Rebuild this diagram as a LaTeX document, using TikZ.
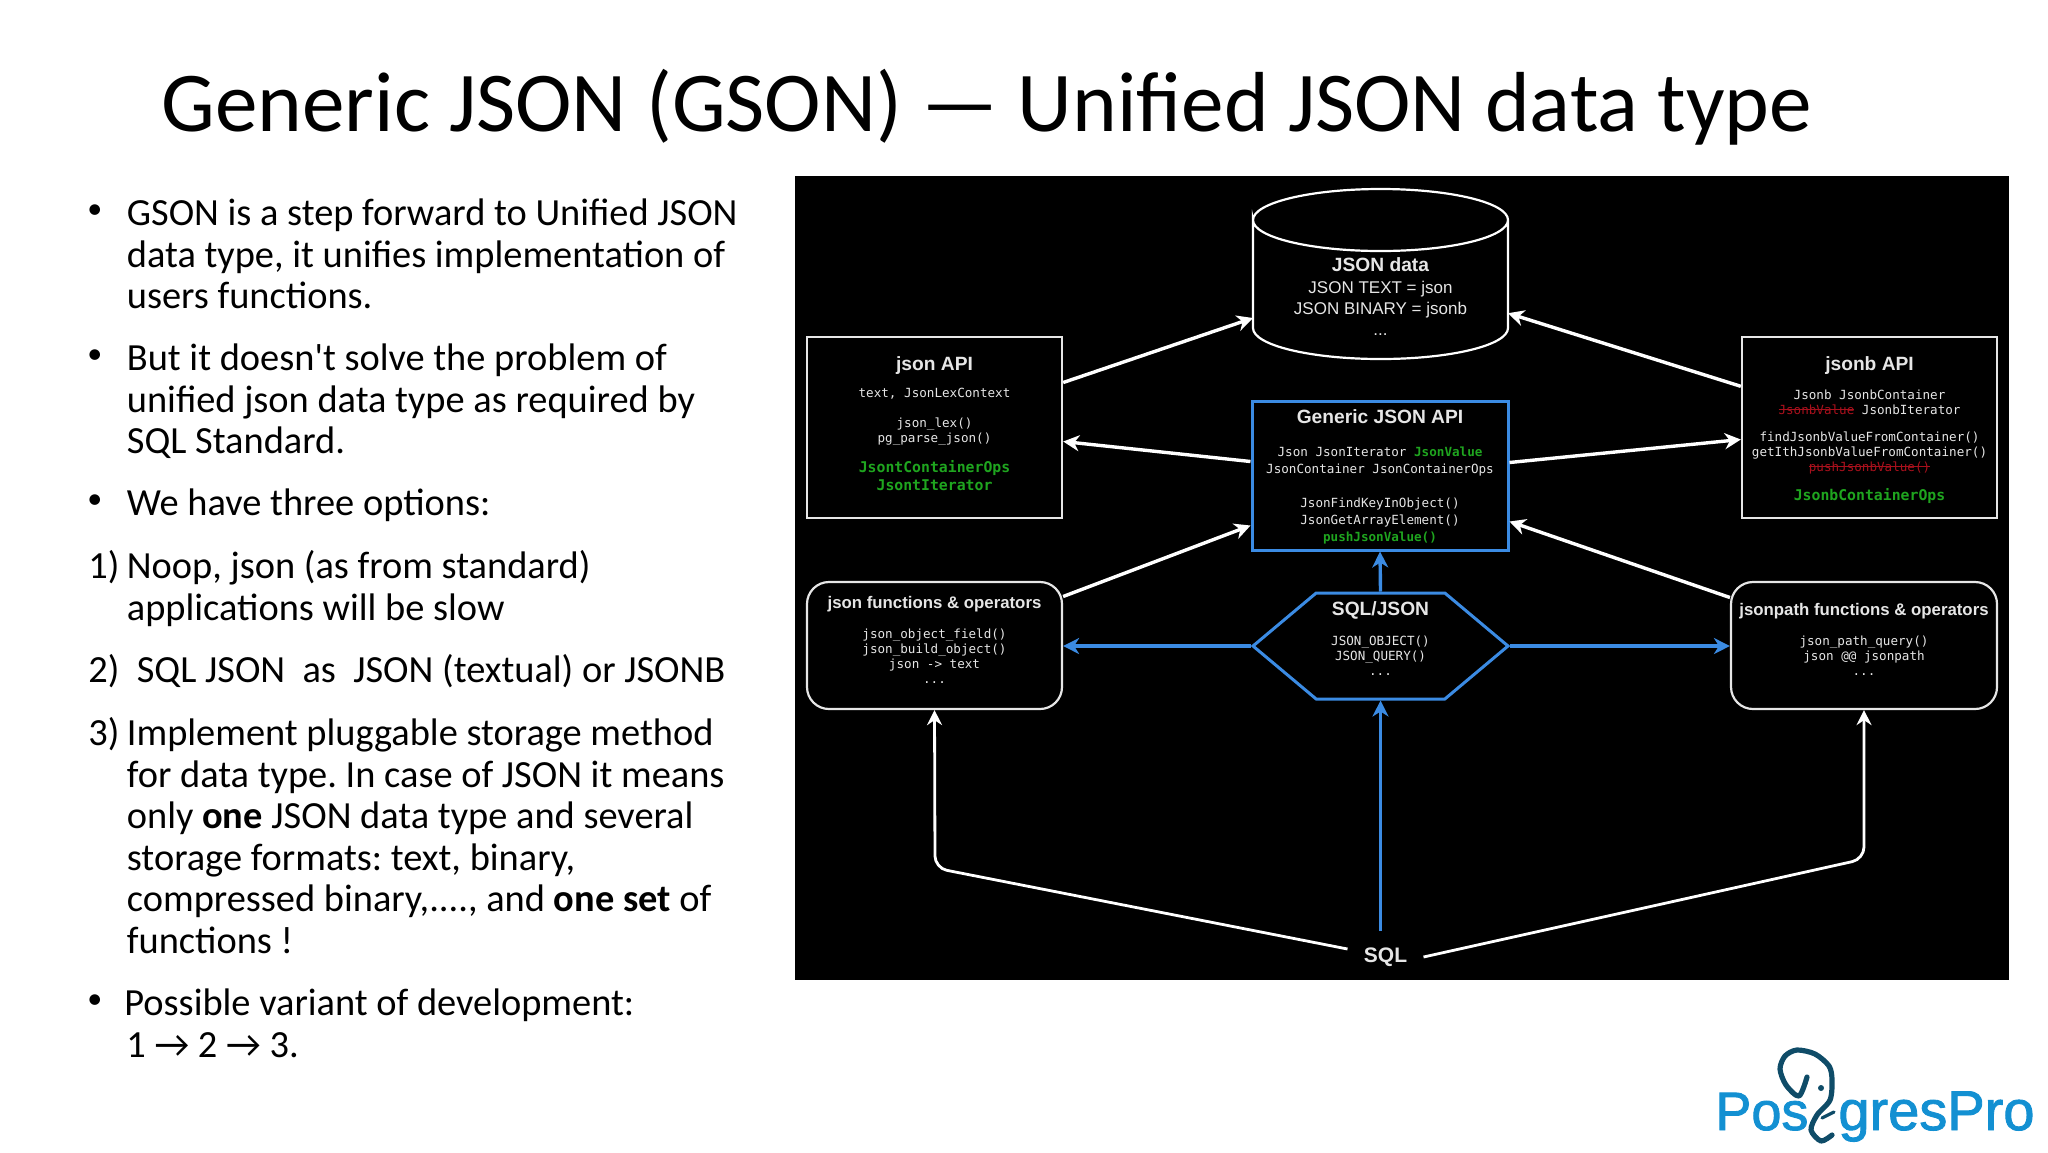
\documentclass[tikz,border=0pt]{standalone}
\usepackage{fontspec}
\setmainfont{Carlito}
\setmonofont{DejaVu Sans Mono}
\newfontfamily\headfont{Liberation Sans}
\newfontfamily\quotefont{Carlito}
\newfontfamily\logofont[FakeBold=1.6]{Liberation Sans}
\usepackage{tikz}
\usetikzlibrary{positioning, arrows.meta, shapes.symbols}
\definecolor{gsonblue}{HTML}{3B8BE3}
\definecolor{gsongreen}{HTML}{1FA51F}
\definecolor{gsonred}{HTML}{A8101C}
\definecolor{gsonline}{HTML}{E6E6E6}
\definecolor{logoblue}{HTML}{1390D2}
\definecolor{logodark}{HTML}{0F4C68}
\newcommand{\apititle}[1]{{\headfont\bfseries\fontsize{9.6}{9.6}\selectfont #1}}
\newcommand{\fntitle}[1]{{\headfont\bfseries\fontsize{8.4}{8.4}\selectfont #1}}
\newcommand{\greencode}[1]{{\bfseries\color{gsongreen}\fontsize{7.4}{7.4}\selectfont #1}}
\newcommand{\greensmall}[1]{{\bfseries\color{gsongreen}#1}}
\newcommand{\redcode}[1]{{\color{gsonred}\sbox0{#1}\rlap{\usebox0}\rule[2pt]{\wd0}{0.5pt}}}
\tikzstyle{panel} = [rectangle, fill=black, inner sep=0pt, minimum width=607pt, minimum height=402pt]
\tikzstyle{apibox} = [rectangle, draw=gsonline, line width=1.2pt, minimum width=127.5pt, minimum height=90.5pt]
\tikzstyle{fnbox} = [rectangle, rounded corners=11pt, draw=gsonline, line width=1.1pt, minimum height=63.5pt]
\tikzstyle{genericbox} = [rectangle, draw=gsonblue, line width=1.5pt, minimum width=128pt, minimum height=74.5pt]
\tikzstyle{datacyl} = [rectangle, inner sep=0pt, outer sep=0pt, minimum width=127.5pt, minimum height=85pt]
\tikzstyle{cylline} = [draw=white, line width=1.1pt]
\tikzstyle{sqlhex} = [signal, signal to=west and east, signal pointer angle=80, draw=gsonblue, line width=1.5pt, minimum width=127.5pt, minimum height=53pt, inner sep=0pt]
\tikzstyle{codetext} = [align=center, inner sep=0pt, text=gsonline, font=\ttfamily\fontsize{6.3}{7.5}\selectfont]
\tikzstyle{datatext} = [align=center, inner sep=0pt, text=gsonline, font=\headfont\fontsize{8.5}{10.5}\selectfont]
\tikzstyle{arrow} = [line width=1.7pt, white, -{Stealth[length=8pt,width=8pt,inset=2.5pt]}]
\tikzstyle{thinarrow} = [line width=1.4pt, white, -{Stealth[length=7.5pt,width=7.5pt,inset=2.5pt]}, rounded corners=6pt]
\tikzstyle{bluearrow} = [line width=1.7pt, gsonblue, -{Stealth[length=8pt,width=8pt,inset=2.5pt]}]
\tikzstyle{para} = [anchor=north west, align=left, inner sep=0pt, font=\fontsize{19.2}{20.75}\selectfont\frenchspacing]
\tikzstyle{bulletmark} = [anchor=north west, inner sep=0pt, font=\fontsize{15}{20.75}\selectfont]
\tikzstyle{logotext} = [anchor=base west, inner sep=0pt, text=logoblue]
\tikzstyle{logoline} = [line width=2.6pt, logodark, line cap=round, line join=round]

\begin{document}
\begin{tikzpicture}[x=0.5pt, y=-0.5pt]
\useasboundingbox (0,0) rectangle (2048,1152);

\node (title) [anchor=base west, inner sep=0pt, font=\fontsize{42.6}{42.6}\selectfont] at (161,131) {Generic JSON (GSON) — Unified JSON data type};

% left column
\node (bulleta) [bulletmark] at (87,189) {\strut•};
\node (parta) [para] at (126.5,196.5) {\strut GSON is a step forward to Unified JSON\\data type, it unifies implementation of\\users functions.};
\node (bulletb) [bulletmark] at (87,334) {\strut•};
\node (partb) [para] at (126.5,341.5) {\strut But it doesn{\quotefont '}t solve the problem of\\unified json data type as required by\\SQL Standard.};
\node (bulletc) [bulletmark] at (87,479) {\strut•};
\node (partc) [para] at (126.5,486.5) {\strut We have three options:};
\node (numa) [para] at (88,549.5) {\strut 1)};
\node (opta) [para] at (126.5,549.5) {\strut Noop, json (as from standard)\\applications will be slow};
\node (optb) [para] at (88,653.5) {\strut 2)~ SQL JSON~ as~ JSON (textual) or JSONB};
\node (numc) [para] at (88,716.5) {\strut 3)};
\node (optc) [para] at (126.5,716.5) {\strut Implement pluggable storage method\\for data type. In case of JSON it means\\only \textbf{one} JSON data type and several\\storage formats: text, binary,\\compressed binary,...., and \textbf{one set} of\\functions !};
\node (bulletd) [bulletmark] at (87,979) {\strut•};
\node (partd) [para] at (124,986.5) {\strut Possible variant of development:\\\hspace{1pt}1 → 2 → 3.};

% diagram
\node (screen) [panel] at (1402,578) {};
\node (jsondata) [datacyl] at (1380.5,274) {};
\draw [cylline] ([yshift=-15.5pt]jsondata.north west) arc[start angle=180, end angle=0, x radius=63.75pt, y radius=15.5pt] arc[start angle=0, end angle=-180, x radius=63.75pt, y radius=15.5pt] -- ([yshift=15.5pt]jsondata.south west) arc[start angle=180, end angle=360, x radius=63.75pt, y radius=15.5pt] -- ([yshift=-15.5pt]jsondata.north east);
\node (jsonapi) [apibox] at (934.5,427.5) {};
\node (jsonbapi) [apibox] at (1869.5,427.5) {};
\node (genericapi) [genericbox] at (1380,475.5) {};
\node (jsonfn) [fnbox, minimum width=127.5pt] at (934.5,645.5) {};
\node (jsonpathfn) [fnbox, minimum width=133pt] at (1864,645.5) {};
\node (sqljson) [sqlhex] at (1380.5,646) {};
\node (sql) [inner sep=8pt, text=gsonline, font=\headfont\bfseries\fontsize{10.5}{10.5}\selectfont] at (1385.5,957) {SQL};
\coordinate (bendleft) at (935,868);
\coordinate (bendright) at (1864,859);

\node (jsondatatext) [datatext, below=34.2pt of jsondata.north] {\apititle{JSON data}\\[.5pt]JSON TEXT = json\\JSON BINARY = jsonb\\...};
\node (jsonapitext) [codetext, below=10pt of jsonapi.north] {\apititle{json API}\\[6.2pt]text, JsonLexContext\\[7.5pt]json\_lex()\\pg\_parse\_json()\\[6.5pt]\greencode{JsontContainerOps}\\[1.3pt]\greencode{JsontIterator}};
\node (jsonbapitext) [codetext, below=10pt of jsonbapi.north] {\apititle{jsonb API}\\[7pt]Jsonb JsonbContainer\\\redcode{JsonbValue} JsonbIterator\\[6pt]findJsonbValueFromContainer()\\getIthJsonbValueFromContainer()\\\redcode{pushJsonbValue()}\\[7pt]\greencode{JsonbContainerOps}};
\node (generictext) [codetext, below=5pt of genericapi.north] {\apititle{Generic JSON API}\\[9pt]Json JsonIterator \greensmall{JsonValue}\\[1pt]JsonContainer JsonContainerOps\\[9.5pt]JsonFindKeyInObject()\\[1pt]JsonGetArrayElement()\\[1pt]\greensmall{pushJsonValue()}};
\node (jsonfntext) [codetext, below=7.5pt of jsonfn.north] {\fntitle{json functions \& operators}\\[7.5pt]json\_object\_field()\\json\_build\_object()\\json -> text\\...};
\node (jsonpathtext) [codetext, below=11pt of jsonpathfn.north] {\fntitle{jsonpath functions \& operators}\\[7.5pt]json\_path\_query()\\json @@ jsonpath\\...};
\node (sqljsontext) [codetext, below=5pt of sqljson.north] {\apititle{SQL/JSON}\\[7.5pt]JSON\_OBJECT()\\JSON\_QUERY()\\...};

\draw [arrow] ([yshift=22.5pt]jsonapi.east) -- ([yshift=-22pt]jsondata.west);
\draw [arrow] ([yshift=20.6pt]jsonbapi.west) -- ([yshift=-19.6pt]jsondata.east);
\draw [arrow] ([yshift=7pt]genericapi.west) -- ([yshift=-7pt]jsonapi.east);
\draw [arrow] ([yshift=6.5pt]genericapi.east) -- ([yshift=-6pt]jsonbapi.west);
\draw [arrow] ([yshift=24.5pt]jsonfn.east) -- ([yshift=-25pt]genericapi.west);
\draw [arrow] ([yshift=24pt]jsonpathfn.west) -- ([yshift=-23pt]genericapi.east);
\draw [bluearrow] (sqljson.north) -- (genericapi.south);
\draw [bluearrow] (sqljson.west) -- (sqljson.west -| jsonfn.east);
\draw [bluearrow] (sqljson.east) -- (sqljson.east -| jsonpathfn.west);
\draw [bluearrow] ([xshift=-2.5pt]sql.north) -- (sqljson.south);
\draw [thinarrow] ([yshift=4pt]sql.west) -- (bendleft) -- (jsonfn.south);
\draw [thinarrow] (sql.east) -- (bendright) -- (jsonpathfn.south);

% logo
\node (logopos) [logotext, font=\logofont\fontsize{27}{27}\selectfont] at (1715,1130) {Pos};
\node (logogres) [logotext, font=\logofont\fontsize{28}{28}\selectfont] at (1838,1130) {gresPro};
\draw [logoline] plot [smooth] coordinates {(1807,1077) (1799,1096) (1786,1085) (1780,1069) (1785,1056) (1797,1050) (1815,1054) (1829,1066) (1832,1080) (1830,1100) (1817,1115) (1811,1130) (1821,1141) (1832,1135)};
\fill [logodark] (1821,1088) circle (3);
\draw [logoline, line width=1.6pt] (1822,1118) -- (1834,1112);
\end{tikzpicture}
\end{document}
